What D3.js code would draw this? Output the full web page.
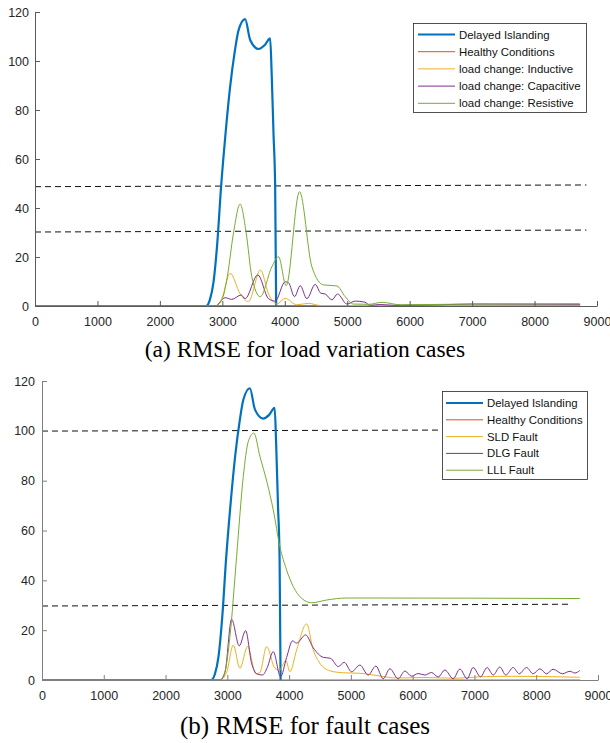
<!DOCTYPE html>
<html>
<head>
<meta charset="utf-8">
<script src="https://cdn.jsdelivr.net/npm/d3@7"></script>
<style>
  body { margin: 0; background: #fff; }
  svg { display: block; }
</style>
</head>
<body>
<svg id="chart" width="610" height="743"></svg>
<script>
// ---- data (sample index, RMSE) ----
const xTicks = [0, 1000, 2000, 3000, 4000, 5000, 6000, 7000, 8000, 9000];
const yTicks = [0, 20, 40, 60, 80, 100, 120];

const islanding = [[0, 0], [2740, 0], [2800, 2.5], [2857, 9.4], [2920, 26], [2980, 48.7], [3050, 70],
  [3125, 89.5], [3200, 104], [3260, 112.6], [3365, 117.1], [3446, 108.6], [3580, 104.9], [3680, 106.5],
  [3766, 109.2], [3790, 95], [3820, 70], [3846, 48.6], [3862, 0]];

// panel (a): load variation
const healthyA = [[0, 0.1], [8730, 0.2]];
const inductive = [[0, 0], [2880, 0], [2990, 3], [3125, 13.3], [3285, 5], [3418, 1.8], [3611, 14.7],
  [3739, 5], [3873, 0.8], [4006, 3.1], [4193, 0.5], [4380, 1.1], [4567, 0.2], [8730, 0.3]];
const capacitive = [[0, 0], [2900, 0], [2960, 1.5], [3045, 3.4], [3152, 2.7], [3301, 4.5], [3365, 3],
  [3568, 12.7], [3739, 3], [3846, 2], [4006, 9.9], [4060, 9.5], [4156, 3.8], [4247, 8.3], [4354, 3],
  [4487, 8.8], [4578, 5.2], [4647, 4.9], [4755, 2.5], [4845, 4.9], [4995, 0.8], [5128, 2], [5278, 1.6],
  [5369, 0.3], [5529, 0.6], [5742, 0.3], [6500, 0.5], [7000, 0.8], [8730, 0.7]];
const resistive = [[0, 0], [2880, 0], [2991, 2.4], [3080, 12], [3178, 29.7], [3285, 41.6], [3381, 30],
  [3472, 12], [3606, 3.8], [3793, 16], [3900, 20.1], [4022, 8.3], [4236, 46.7], [4434, 16], [4622, 8.6],
  [4835, 8.2], [4968, 3.8], [5101, 0.8], [5350, 0.7], [5556, 1.5], [5850, 0.5], [7000, 0.8], [8723, 0.9]];
const thresholdsA = [[[0, 48.7], [8830, 49.4]], [[0, 30.2], [8830, 31.0]]];
const labelsA = ['Delayed Islanding', 'Healthy Conditions', 'load change: Inductive',
  'load change: Capacitive', 'load change: Resistive'];

// panel (b): faults
const healthyB = [[0, 0], [8710, 0]];
const sldFault = [[0, 0], [2880, 0], [2988, 3], [3096, 14], [3204, 4.7], [3328, 13.4], [3463, 2.4],
  [3528, 3], [3636, 13.4], [3770, 4.7], [3840, 4], [3948, 7.8], [4013, 3.3], [4121, 12], [4283, 22.5],
  [4391, 12], [4499, 6.7], [4660, 3.7], [4876, 2.9], [5146, 2.7], [5469, 1.6], [5739, 0.8], [6200, 1],
  [6700, 0.7], [7100, 1.3], [7600, 1.5], [8100, 1.4], [8705, 1.1]];
const dlgFault = [[0, 0], [2880, 0], [2961, 3], [3069, 24.4], [3193, 13.7], [3296, 19.8], [3393, 6.7],
  [3484, 2.4], [3571, 2], [3646, 5], [3743, 11.4], [3862, 1.3], [3959, 9], [4056, 15.7], [4121, 14.8],
  [4267, 18.1], [4391, 12.9], [4553, 9.1], [4671, 8.7], [4795, 5.4], [4892, 7.1], [5011, 3.3], [5146, 6],
  [5280, 2], [5405, 5.6], [5523, 0.5], [5631, 4.5], [5766, 0.5], [5874, 3.6], [5982, 1.5], [6090, 2.6],
  [6197, 2], [6305, 3], [6413, 1.2], [6521, 4], [6656, 0.5], [6764, 4.4], [6882, 0.5], [6979, 5],
  [7098, 1.3], [7206, 5], [7303, 2], [7411, 5.2], [7508, 2], [7627, 5], [7724, 2.5], [7843, 5],
  [7950, 2.5], [8058, 4.5], [8166, 2.5], [8274, 4.3], [8425, 2.5], [8544, 3.5], [8625, 2.8], [8705, 3.8]];
const lllFault = [[0, 0], [2880, 0], [2961, 3.3], [3042, 17.4], [3150, 49.5], [3258, 81.6], [3339, 95.7],
  [3430, 99.1], [3528, 89.7], [3646, 79], [3743, 68.3], [3851, 53.5], [3959, 44.2], [4067, 37.5],
  [4202, 32.8], [4364, 31], [4607, 32.1], [4930, 32.9], [5500, 32.9], [8705, 32.7]];
const thresholdsB = [[[0, 99.9], [6410, 100.3]], [[0, 29.7], [8544, 30.4]]];
const labelsB = ['Delayed Islanding', 'Healthy Conditions', 'SLD Fault', 'DLG Fault', 'LLL Fault'];

// MATLAB default line colours
const colors = ['#0072BD', '#D95319', '#EDB120', '#7E2F8E', '#77AC30'];

const svg = d3.select('#chart');

function drawPanel(p) {
  const x = d3.scaleLinear().domain([0, 9000]).range([p.left, p.right]);
  const y = d3.scaleLinear().domain([0, 120]).range([p.bottom, p.top]);
  const g = svg.append('g');

  const line = d3.line()
    .x(d => x(d[0]))
    .y(d => y(d[1]))
    .curve(d3.curveMonotoneX);

  // threshold lines
  g.selectAll('line.thr')
    .data(p.thresholds)
    .enter()
    .append('line')
    .attr('x1', d => x(d[0][0]))
    .attr('y1', d => y(d[0][1]))
    .attr('x2', d => x(d[1][0]))
    .attr('y2', d => y(d[1][1]))
    .attr('stroke', '#111')
    .attr('stroke-width', 1)
    .attr('stroke-dasharray', '6,4');

  // series
  g.selectAll('path.series')
    .data(p.series)
    .enter()
    .append('path')
    .attr('fill', 'none')
    .attr('stroke', (d, i) => colors[i])
    .attr('stroke-width', (d, i) => i === 0 ? 2.2 : 1)
    .attr('stroke-linejoin', 'round')
    .attr('d', d => line(d));

  // axes (ticks point inward like MATLAB)
  const xAxis = g.append('g')
    .attr('transform', `translate(0,${p.bottom})`)
    .call(d3.axisBottom(x).tickValues(xTicks).tickFormat(d3.format('d'))
      .tickSize(-5).tickSizeOuter(0).tickPadding(11));
  const yAxis = g.append('g')
    .attr('transform', `translate(${p.left},0)`)
    .call(d3.axisLeft(y).tickValues(yTicks).tickFormat(d3.format('d'))
      .tickSize(-5).tickSizeOuter(0).tickPadding(p.yPad));

  [xAxis, yAxis].forEach(a => {
    a.select('.domain').attr('stroke', p.axisColor);
    a.selectAll('.tick line').attr('stroke', p.axisColor);
    a.selectAll('.tick text')
      .attr('fill', '#262626')
      .style('font-family', '"Liberation Sans", Arial, sans-serif')
      .style('font-size', '12.5px');
  });

  // legend
  const lg = g.append('g');
  lg.append('rect')
    .attr('x', p.legend.x)
    .attr('y', p.legend.y)
    .attr('width', p.legend.w)
    .attr('height', p.legend.h)
    .attr('fill', '#fff')
    .attr('stroke', '#262626')
    .attr('stroke-width', 0.8);

  const items = lg.selectAll('g.item')
    .data(p.labels)
    .enter()
    .append('g')
    .attr('transform', (d, i) => `translate(0,${p.legend.row0 + i * p.legend.step})`);
  items.append('line')
    .attr('x1', p.legend.lx1)
    .attr('x2', p.legend.lx2)
    .attr('stroke', (d, i) => colors[i])
    .attr('stroke-width', (d, i) => i === 0 ? 2.2 : 1);
  items.append('text')
    .attr('x', p.legend.tx)
    .attr('dy', '0.35em')
    .attr('fill', '#111')
    .style('font-family', '"Liberation Sans", Arial, sans-serif')
    .style('font-size', '11.4px')
    .text(d => d);

  // caption
  svg.append('text')
    .attr('x', 305)
    .attr('y', p.captionY)
    .attr('text-anchor', 'middle')
    .attr('fill', '#000')
    .style('font-family', '"Liberation Serif", "Times New Roman", serif')
    .style('font-size', p.captionSize)
    .text(p.caption);
}

drawPanel({
  left: 35, right: 597, top: 12, bottom: 306, yPad: 6, axisColor: '#5a5a5a',
  series: [islanding, healthyA, inductive, capacitive, resistive],
  thresholds: thresholdsA,
  labels: labelsA,
  legend: { x: 413.5, y: 23.5, w: 173, h: 89, row0: 34.5, step: 17.2, lx1: 418, lx2: 455, tx: 459 },
  caption: '(a) RMSE for load variation cases',
  captionSize: '23.5px',
  captionY: 357
});

drawPanel({
  left: 42, right: 598, top: 381, bottom: 680, yPad: 7, axisColor: '#808080',
  series: [islanding, healthyB, sldFault, dlgFault, lllFault],
  thresholds: thresholdsB,
  labels: labelsB,
  legend: { x: 442.5, y: 391.5, w: 145, h: 88, row0: 403, step: 16.8, lx1: 446, lx2: 483, tx: 487 },
  caption: '(b) RMSE for fault cases',
  captionSize: '25px',
  captionY: 734
});
</script>
</body>
</html>
